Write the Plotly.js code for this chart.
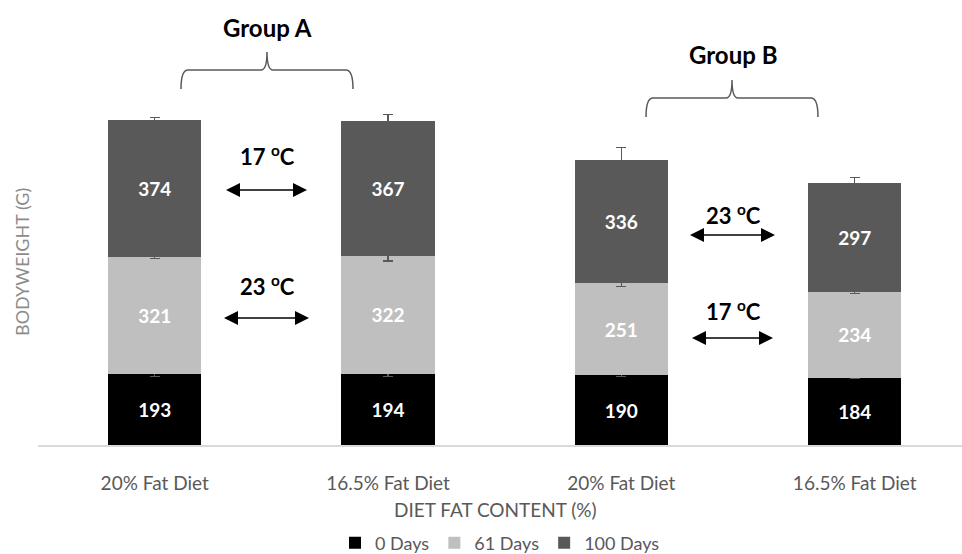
<!DOCTYPE html>
<html>
<head>
<meta charset="utf-8">
<script src="https://cdn.plot.ly/plotly-3.0.1.min.js"></script>
<style>html,body{margin:0;padding:0;background:#fff;}#chart{width:962px;height:554px;}</style>
</head>
<body>
<div id="chart"></div>
<script>
// ---- data ----
const categories = ["20% Fat Diet", "16.5% Fat Diet", "20% Fat Diet", "16.5% Fat Diet"];
const seriesNames = ["0 Days", "61 Days", "100 Days"];
const days0 = [193, 194, 190, 184];
const days61 = [321, 322, 251, 234];
const days100 = [374, 367, 336, 297];
const err0 = [5, 7, 4, 3];
const err61 = [5, 14, 9, 4];
const err100 = [6, 19, 34, 14];
const groupLabels = ["Group A", "Group B"];
const tempUpper = ["17", "23"];
const tempLower = ["23", "17"];

// ---- layout helpers (pixel -> paper) ----
const L = 38, W = 924, T = 10, H = 435;
const px = x => (x - L) / W;
const py = y => (445 - y) / H;

const xIdx = categories.map((_, i) => i);
const colors = ["#000000", "#bfbfbf", "#595959"];
const vals = [days0, days61, days100];
const errs = [err0, err61, err100];
const FONT = "Lato, 'Open Sans', sans-serif";

const traces = vals.map((v, k) => ({
  type: "bar",
  name: seriesNames[k],
  x: xIdx,
  y: v,
  width: 0.4,
  marker: {color: colors[k], line: {width: 0}},
  text: v.map(String),
  textposition: "inside",
  insidetextanchor: "middle",
  textangle: 0,
  textfont: {family: FONT, size: 19, color: "#ffffff", weight: "bold"},
  error_y: {type: "data", array: errs[k], visible: true, color: "#595959", thickness: 1.2, width: 5},
  hoverinfo: "skip"
}));

function brace(x1, x2, yb, yh, yp) {
  const xc = (x1 + x2) / 2;
  const P = (x, y) => px(x) + "," + py(y);
  return "M" + P(x1, yb) + " Q" + P(x1, yh) + " " + P(x1 + 7, yh) +
    " L" + P(xc - 6, yh) + " Q" + P(xc, yh) + " " + P(xc, yp) +
    " Q" + P(xc, yh) + " " + P(xc + 6, yh) +
    " L" + P(x2 - 7, yh) + " Q" + P(x2, yh) + " " + P(x2, yb);
}

// double-headed arrow drawn as shapes
function dblArrow(x1, x2, y) {
  const P = (x, yy) => px(x) + "," + py(yy);
  const hl = 14, hh = 7;
  return [
    {type: "line", xref: "paper", yref: "paper", x0: px(x1 + hl - 2), x1: px(x2 - hl + 2), y0: py(y), y1: py(y),
     line: {color: "#000000", width: 1.5}},
    {type: "path", xref: "paper", yref: "paper", path: "M" + P(x1, y) + " L" + P(x1 + hl, y - hh) + " L" + P(x1 + hl, y + hh) + " Z",
     fillcolor: "#000000", line: {width: 0}},
    {type: "path", xref: "paper", yref: "paper", path: "M" + P(x2, y) + " L" + P(x2 - hl, y - hh) + " L" + P(x2 - hl, y + hh) + " Z",
     fillcolor: "#000000", line: {width: 0}}
  ];
}

const shapes = [
  {type: "path", xref: "paper", yref: "paper", path: brace(181, 353, 89, 70, 52), line: {color: "#595959", width: 1.5}},
  {type: "path", xref: "paper", yref: "paper", path: brace(646, 818, 117, 98, 80), line: {color: "#595959", width: 1.5}},
  ...dblArrow(226, 307, 190),
  ...dblArrow(224, 309, 318),
  ...dblArrow(690, 775, 235),
  ...dblArrow(692, 773, 338)
];

function label(text, x, y, size) {
  return {xref: "paper", yref: "paper", x: px(x), y: py(y), xanchor: "center", yanchor: "middle",
    text: text, showarrow: false, font: {family: FONT, size: size, color: "#000000", weight: "bold"}};
}
const deg = t => t + " <sup>o</sup>C";

const annotations = [
  label(groupLabels[0], 267, 27, 24),
  label(groupLabels[1], 733, 55, 24),
  label(deg(tempUpper[0]), 267, 155, 22),
  label(deg(tempLower[0]), 267, 285, 22),
  label(deg(tempUpper[1]), 733, 214, 22),
  label(deg(tempLower[1]), 733, 310, 22),
  {xref: "paper", yref: "paper", x: px(22), y: py(262), textangle: -90, xanchor: "center", yanchor: "middle",
   text: "BODYWEIGHT (G)", showarrow: false, font: {family: FONT, size: 18, color: "#8c8c8c"}},
  {xref: "paper", yref: "paper", x: px(495), y: py(509), xanchor: "center", yanchor: "middle",
   text: "DIET FAT CONTENT (%)", showarrow: false, font: {family: FONT, size: 19, color: "#595959"}}
];

const layout = {
  width: 962, height: 554,
  margin: {l: L, r: 0, t: T, b: 109},
  paper_bgcolor: "#ffffff", plot_bgcolor: "#ffffff",
  barmode: "stack",
  showlegend: true,
  legend: {orientation: "h", x: 500 / 962, xref: "container", xanchor: "center",
    y: (554 - 543) / 554, yref: "container", yanchor: "middle",
    traceorder: "normal", font: {family: FONT, size: 18, color: "#595959"}, itemwidth: 30},
  xaxis: {range: [-0.5, 3.46], tickvals: xIdx, ticktext: categories, showgrid: false, zeroline: false,
    showline: true, linecolor: "#d9d9d9", linewidth: 1.5, ticks: "", ticklabelstandoff: 21,
    tickfont: {family: FONT, size: 19, color: "#595959"}, fixedrange: true},
  yaxis: {range: [0, 1187], showgrid: false, zeroline: false, showline: false, showticklabels: false, ticks: "", fixedrange: true},
  shapes: shapes,
  annotations: annotations,
  font: {family: FONT}
};

Plotly.newPlot("chart", traces, layout, {staticPlot: true, displayModeBar: false});
</script>
</body>
</html>
